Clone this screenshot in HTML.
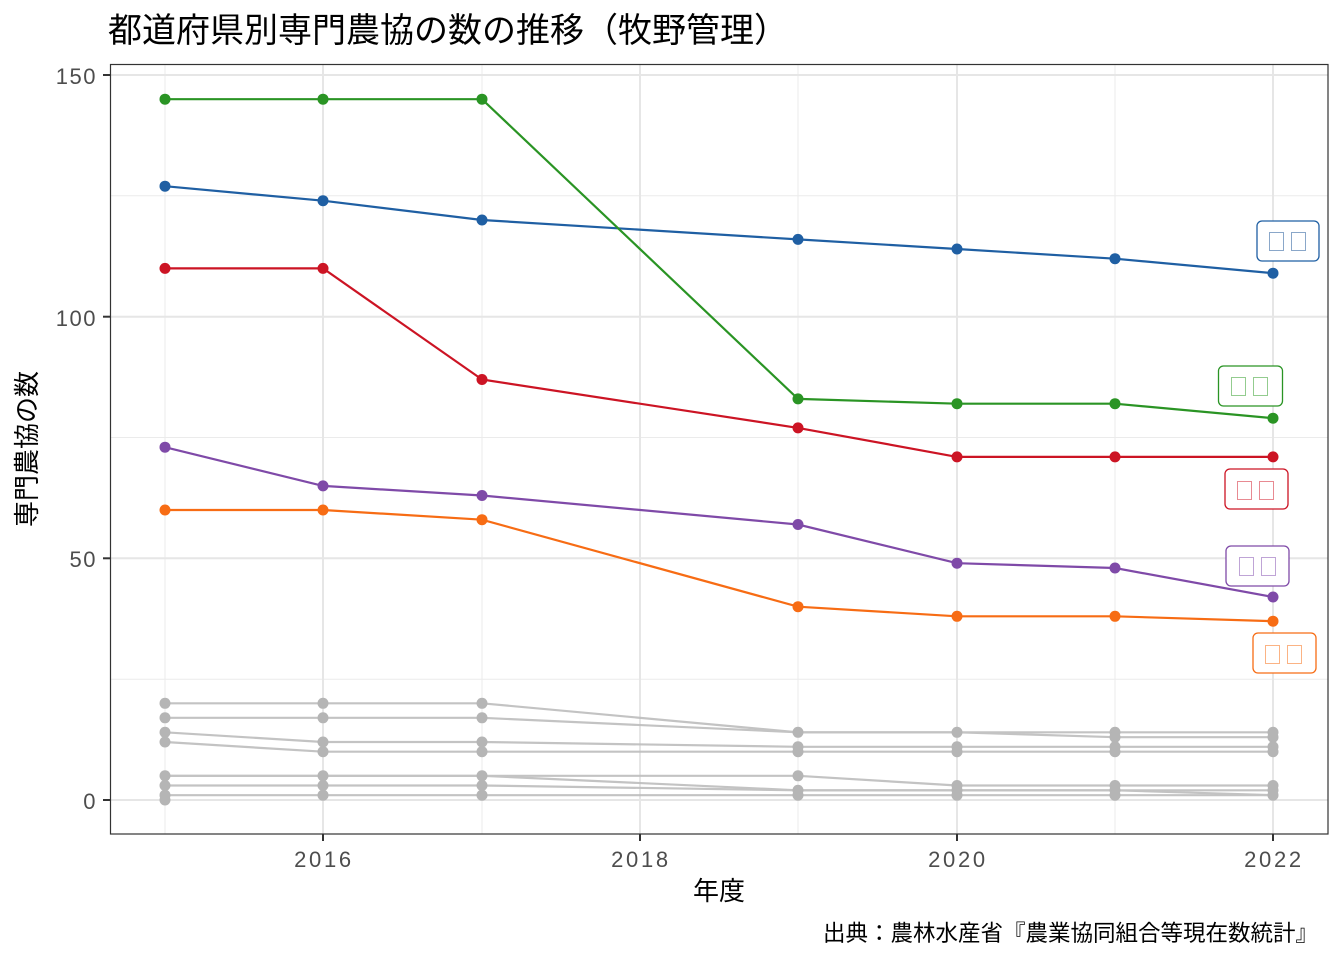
<!DOCTYPE html>
<html><head><meta charset="utf-8"><style>body{margin:0;background:#fff}svg{display:block}text{font-family:"Liberation Sans","Noto Sans CJK JP",sans-serif}</style></head><body>
<svg width="1344" height="960" xmlns="http://www.w3.org/2000/svg">
<rect width="1344" height="960" fill="#fff"/>
<g stroke="#ebebeb" stroke-width="1">
<line x1="110" x2="1328" y1="679.2" y2="679.2"/><line x1="110" x2="1328" y1="437.5" y2="437.5"/><line x1="110" x2="1328" y1="195.8" y2="195.8"/>
<line x1="165" x2="165" y1="64" y2="834"/><line x1="482" x2="482" y1="64" y2="834"/><line x1="798" x2="798" y1="64" y2="834"/><line x1="1115" x2="1115" y1="64" y2="834"/>
</g>
<g stroke="#e6e6e6" stroke-width="2">
<line x1="110" x2="1328" y1="800" y2="800"/><line x1="110" x2="1328" y1="558.3" y2="558.3"/><line x1="110" x2="1328" y1="316.7" y2="316.7"/><line x1="110" x2="1328" y1="75" y2="75"/>
<line x1="323" x2="323" y1="64" y2="834"/><line x1="640" x2="640" y1="64" y2="834"/><line x1="957" x2="957" y1="64" y2="834"/><line x1="1273" x2="1273" y1="64" y2="834"/>
</g>
<g fill="none" stroke="#bdbdbd" stroke-width="2.2" opacity="0.9">
<polyline points="165,703.3 323,703.3 482,703.3 798,732.3 957,732.3 1115,732.3 1273,732.3"/>
<polyline points="165,717.8 323,717.8 482,717.8 798,732.3 957,732.3 1115,737.2 1273,737.2"/>
<polyline points="165,732.3 323,742 482,742 798,746.8 957,746.8 1115,746.8 1273,746.8"/>
<polyline points="165,742 323,751.7 482,751.7 798,751.7 957,751.7 1115,751.7 1273,751.7"/>
<polyline points="165,775.8 323,775.8 482,775.8 798,775.8 957,785.5 1115,785.5 1273,785.5"/>
<polyline points="165,775.8 323,775.8 482,775.8 798,790.3 957,790.3 1115,790.3 1273,790.3"/>
<polyline points="165,785.5 323,785.5 482,785.5 798,790.3 957,790.3 1115,790.3 1273,795.2"/>
<polyline points="165,795.2 323,795.2 482,795.2 798,795.2 957,795.2 1115,795.2 1273,795.2"/>
</g>
<g fill="#b5b5b5">
<circle cx="165" cy="703.3" r="5.5"/><circle cx="323" cy="703.3" r="5.5"/><circle cx="482" cy="703.3" r="5.5"/>
<circle cx="165" cy="717.8" r="5.5"/><circle cx="323" cy="717.8" r="5.5"/><circle cx="482" cy="717.8" r="5.5"/>
<circle cx="165" cy="732.3" r="5.5"/><circle cx="323" cy="742" r="5.5"/><circle cx="482" cy="742" r="5.5"/>
<circle cx="165" cy="742" r="5.5"/><circle cx="323" cy="751.7" r="5.5"/><circle cx="482" cy="751.7" r="5.5"/>
<circle cx="165" cy="775.8" r="5.5"/><circle cx="323" cy="775.8" r="5.5"/><circle cx="482" cy="775.8" r="5.5"/>
<circle cx="165" cy="785.5" r="5.5"/><circle cx="323" cy="785.5" r="5.5"/><circle cx="482" cy="785.5" r="5.5"/>
<circle cx="165" cy="795.2" r="5.5"/><circle cx="323" cy="795.2" r="5.5"/><circle cx="482" cy="795.2" r="5.5"/><circle cx="165" cy="800" r="5.5"/>
<circle cx="798" cy="732.3" r="5.5"/><circle cx="798" cy="746.8" r="5.5"/><circle cx="798" cy="751.7" r="5.5"/><circle cx="798" cy="775.8" r="5.5"/><circle cx="798" cy="790.3" r="5.5"/><circle cx="798" cy="795.2" r="5.5"/>
<circle cx="957" cy="732.3" r="5.5"/><circle cx="957" cy="746.8" r="5.5"/><circle cx="957" cy="751.7" r="5.5"/><circle cx="957" cy="785.5" r="5.5"/><circle cx="957" cy="790.3" r="5.5"/><circle cx="957" cy="795.2" r="5.5"/>
<circle cx="1115" cy="732.3" r="5.5"/><circle cx="1115" cy="737.2" r="5.5"/><circle cx="1115" cy="746.8" r="5.5"/><circle cx="1115" cy="751.7" r="5.5"/><circle cx="1115" cy="785.5" r="5.5"/><circle cx="1115" cy="790.3" r="5.5"/><circle cx="1115" cy="795.2" r="5.5"/>
<circle cx="1273" cy="732.3" r="5.5"/><circle cx="1273" cy="737.2" r="5.5"/><circle cx="1273" cy="746.8" r="5.5"/><circle cx="1273" cy="751.7" r="5.5"/><circle cx="1273" cy="785.5" r="5.5"/><circle cx="1273" cy="790.3" r="5.5"/><circle cx="1273" cy="795.2" r="5.5"/>
</g>
<g fill="none" stroke-width="2.2">
<polyline stroke="#1f5fa3" points="165,186.2 323,200.7 482,220 798,239.4 957,249 1115,258.7 1273,273.2"/>
<polyline stroke="#2a9424" points="165,99.2 323,99.2 482,99.2 798,398.9 957,403.7 1115,403.7 1273,418.2"/>
<polyline stroke="#cc1424" points="165,268.4 323,268.4 482,379.5 798,427.9 957,456.9 1115,456.9 1273,456.9"/>
<polyline stroke="#7f4aa8" points="165,447.2 323,485.9 482,495.5 798,524.5 957,563.2 1115,568 1273,597"/>
<polyline stroke="#f76c14" points="165,510 323,510 482,519.7 798,606.7 957,616.3 1115,616.3 1273,621.2"/>
</g>
<g fill="#1f5fa3"><circle cx="165" cy="186.2" r="5.5"/><circle cx="323" cy="200.7" r="5.5"/><circle cx="482" cy="220" r="5.5"/><circle cx="798" cy="239.4" r="5.5"/><circle cx="957" cy="249" r="5.5"/><circle cx="1115" cy="258.7" r="5.5"/><circle cx="1273" cy="273.2" r="5.5"/></g>
<g fill="#2a9424"><circle cx="165" cy="99.2" r="5.5"/><circle cx="323" cy="99.2" r="5.5"/><circle cx="482" cy="99.2" r="5.5"/><circle cx="798" cy="398.9" r="5.5"/><circle cx="957" cy="403.7" r="5.5"/><circle cx="1115" cy="403.7" r="5.5"/><circle cx="1273" cy="418.2" r="5.5"/></g>
<g fill="#cc1424"><circle cx="165" cy="268.4" r="5.5"/><circle cx="323" cy="268.4" r="5.5"/><circle cx="482" cy="379.5" r="5.5"/><circle cx="798" cy="427.9" r="5.5"/><circle cx="957" cy="456.9" r="5.5"/><circle cx="1115" cy="456.9" r="5.5"/><circle cx="1273" cy="456.9" r="5.5"/></g>
<g fill="#7f4aa8"><circle cx="165" cy="447.2" r="5.5"/><circle cx="323" cy="485.9" r="5.5"/><circle cx="482" cy="495.5" r="5.5"/><circle cx="798" cy="524.5" r="5.5"/><circle cx="957" cy="563.2" r="5.5"/><circle cx="1115" cy="568" r="5.5"/><circle cx="1273" cy="597" r="5.5"/></g>
<g fill="#f76c14"><circle cx="165" cy="510" r="5.5"/><circle cx="323" cy="510" r="5.5"/><circle cx="482" cy="519.7" r="5.5"/><circle cx="798" cy="606.7" r="5.5"/><circle cx="957" cy="616.3" r="5.5"/><circle cx="1115" cy="616.3" r="5.5"/><circle cx="1273" cy="621.2" r="5.5"/></g>
<g fill="#fff" stroke-width="1.3">
<rect x="1257" y="221" width="62" height="40" rx="5" stroke="#1f5fa3"/>
<rect x="1218.5" y="366" width="64" height="40" rx="5" stroke="#2a9424"/>
<rect x="1225" y="469" width="63" height="40" rx="5" stroke="#cc1424"/>
<rect x="1226" y="546" width="63" height="40" rx="5" stroke="#7f4aa8"/>
<rect x="1253" y="633" width="63" height="40" rx="5" stroke="#f76c14"/>
</g>
<g fill="none" stroke-width="1">
<rect x="1269.5" y="232.5" width="14" height="18" stroke="#8aa7c9"/><rect x="1291.5" y="232.5" width="14" height="18" stroke="#8aa7c9"/>
<rect x="1231.5" y="377.5" width="14" height="18" stroke="#93cc8f"/><rect x="1253.5" y="377.5" width="14" height="18" stroke="#93cc8f"/>
<rect x="1237.5" y="481.5" width="14" height="18" stroke="#e88a92"/><rect x="1259.5" y="481.5" width="14" height="18" stroke="#e88a92"/>
<rect x="1239.5" y="557.5" width="14" height="18" stroke="#bfa4d6"/><rect x="1261.5" y="557.5" width="14" height="18" stroke="#bfa4d6"/>
<rect x="1265.5" y="645.5" width="14" height="18" stroke="#fbb384"/><rect x="1287.5" y="645.5" width="14" height="18" stroke="#fbb384"/>
</g>
<rect x="110.5" y="64.5" width="1217.5" height="769.5" fill="none" stroke="#333" stroke-width="1.2"/>
<g stroke="#333" stroke-width="2">
<line x1="103" x2="110" y1="800" y2="800"/><line x1="103" x2="110" y1="558.3" y2="558.3"/><line x1="103" x2="110" y1="316.7" y2="316.7"/><line x1="103" x2="110" y1="75" y2="75"/>
<line x1="323" x2="323" y1="834" y2="841"/><line x1="640" x2="640" y1="834" y2="841"/><line x1="957" x2="957" y1="834" y2="841"/><line x1="1273" x2="1273" y1="834" y2="841"/>
</g>
<g fill="#4d4d4d" font-size="22" text-anchor="end" letter-spacing="1.5">
<text x="97" y="809">0</text><text x="97" y="567">50</text><text x="97" y="326">100</text><text x="97" y="84">150</text>
</g>
<g fill="#4d4d4d" font-size="22" letter-spacing="2.7" text-anchor="middle">
<text x="324" y="867">2016</text><text x="641" y="867">2018</text><text x="958" y="867">2020</text><text x="1274" y="867">2022</text>
</g>
<text x="719" y="900" font-size="26" text-anchor="middle" fill="#000">年度</text>
<text transform="translate(36,449) rotate(-90)" font-size="26" text-anchor="middle" fill="#000">専門農協の数</text>
<text x="108" y="42" font-size="34" fill="#000">都道府県別専門農協の数の推移（牧野管理）</text>
<text x="1318" y="941" font-size="22.5" text-anchor="end" fill="#000">出典：農林水産省『農業協同組合等現在数統計』</text>
</svg>
</body></html>
